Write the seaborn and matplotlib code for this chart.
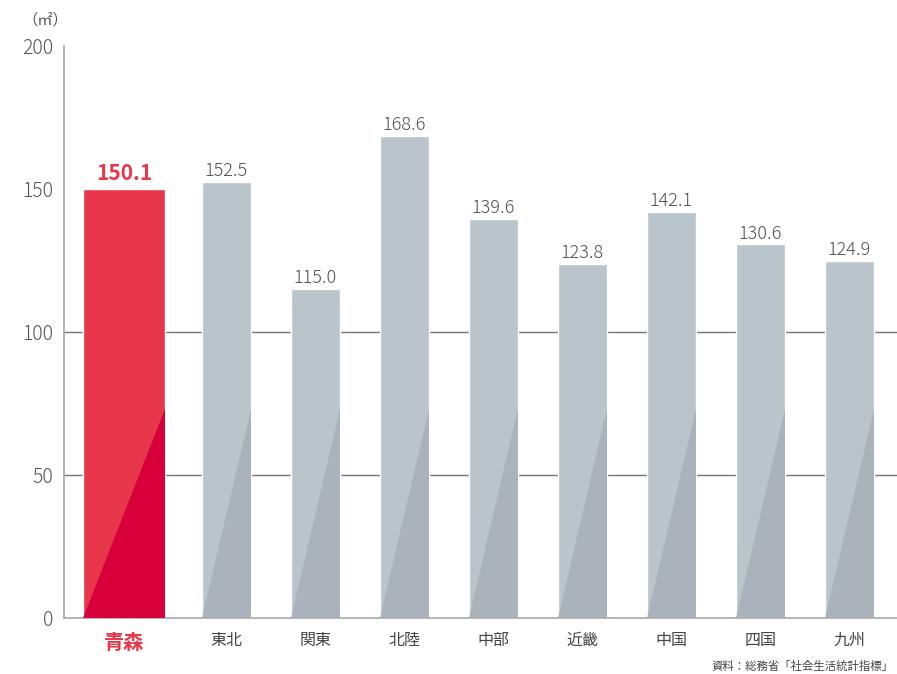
import numpy as np
import pandas as pd
import seaborn as sns
import matplotlib.pyplot as plt

# ----------------------------------------------------------
# data
# ----------------------------------------------------------
regions = ["青森", "東北", "関東", "北陸", "中部", "近畿", "中国", "四国", "九州"]
areas = [150.1, 152.5, 115.0, 168.6, 139.6, 123.8, 142.1, 130.6, 124.9]
yticks = [0, 50, 100, 150, 200]
source_note = "資料：総務省「社会生活統計指標」"
unit_label = "（㎡）"

RED, RED_DARK = "#e8374a", "#d7003a"
GREY, GREY_DARK = "#b9c4cb", "#aab3bb"
SHADE_TOP = 73  # height where the diagonal shading meets the right edge

# first bar is wider and set apart a bit
pos = np.r_[0, np.arange(1, len(regions)) + 0.15]
df = pd.DataFrame({"pos": pos, "region": regions, "area": areas})

sns.set_theme(style="white")
plt.rcParams["font.family"] = ["Noto Sans CJK JP", "DejaVu Sans"]

fig = plt.figure(figsize=(8.97, 6.74), dpi=100)
ax = fig.add_axes([64 / 897, 1 - 618 / 674, 1 - 64 / 897, (618 - 46) / 674])

for y in [50, 100]:
    ax.axhline(y, color="#777777", lw=1.0, zorder=0)

sns.barplot(data=df, x="pos", y="area", native_scale=True, width=0.55,
            color=GREY, saturation=1, ax=ax, zorder=2)

# widen the first (Aomori) bar
p0 = ax.patches[0]
cx = p0.get_x() + p0.get_width() / 2
p0.set_width(0.92)
p0.set_x(cx - 0.46)
p0.set_facecolor(RED)

for i, p in enumerate(ax.patches):
    x0, w = p.get_x(), p.get_width()
    dark = RED_DARK if i == 0 else GREY_DARK
    ax.fill([x0, x0 + w, x0 + w], [0, 0, SHADE_TOP], color=dark, lw=0, zorder=3)
    val = areas[i]
    if i == 0:
        ax.text(x0 + w / 2, val + 1.5, f"{val:.1f}", ha="center", va="bottom",
                fontsize=15, fontweight="bold", color=RED)
    else:
        ax.text(x0 + w / 2, val + 0.6, f"{val:.1f}", ha="center", va="bottom",
                fontsize=13, fontweight="light", color="#505050")

ax.set_xlim(-0.674, 8.685)
ax.set_ylim(0, 200)
ax.set_yticks(yticks)
ax.set_yticklabels([str(t) for t in yticks], fontsize=14, fontweight="light",
                   color="#555555")
ax.set_xticks(pos)
ax.set_xticklabels(regions, fontsize=11.5, color="#444444")
lbl0 = ax.get_xticklabels()[0]
lbl0.set_color(RED)
lbl0.set_fontsize(14.5)
lbl0.set_fontweight("bold")
ax.tick_params(axis="x", length=0, pad=10)
ax.tick_params(axis="y", length=0, pad=8)
ax.set_xlabel("")
ax.set_ylabel("")

for s in ["top", "right"]:
    ax.spines[s].set_visible(False)
ax.spines["left"].set_color("#a8a8a8")
ax.spines["bottom"].set_color("#a8a8a8")
ax.spines["left"].set_linewidth(1.2)
ax.spines["bottom"].set_linewidth(1.2)

fig.text(45 / 897, 1 - 20 / 674, unit_label, ha="center", va="center",
         fontsize=11, color="#555555")
fig.text(893 / 897, 1 - 666 / 674, source_note, ha="right", va="center",
         fontsize=8.2, color="#444444")

fig.savefig("out.png", dpi=100)
